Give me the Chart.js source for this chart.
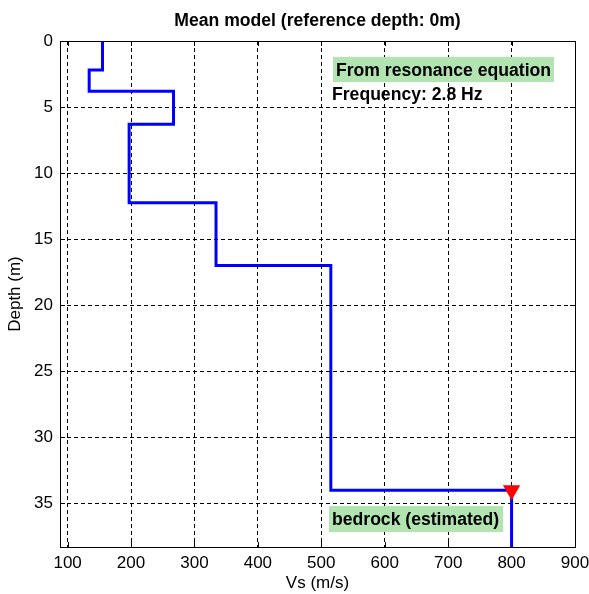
<!DOCTYPE html>
<html>
<head>
<meta charset="utf-8">
<script src="https://cdn.jsdelivr.net/npm/chart.js@4"></script>
<style>
  body { margin: 0; background: #fff; }
  #wrap { width: 589px; height: 594px; }
</style>
</head>
<body>
<div id="wrap"><canvas id="myChart"></canvas></div>
<script>
// layered Vs model
const layerVs = [155, 134, 267, 197, 334, 515, 800];
const layerTop = [0, 2.2, 3.8, 6.3, 12.25, 17.0, 34.0];
const bedrockVs = [800];
const bedrockDepth = [34.0];

const xTicks = [100, 200, 300, 400, 500, 600, 700, 800, 900];
const yTicks = [0, 5, 10, 15, 20, 25, 30, 35];
const xMin = 88, xMax = 900;
const yMin = 0, yMax = 38.3;

const titleText = 'Mean model (reference depth: 0m)';
const noteTitle = 'From resonance equation';
const noteFreq = 'Frequency: 2.8 Hz';
const noteBedrock = 'bedrock (estimated)';

const FONT = "'Liberation Sans', Arial, sans-serif";
const GREEN = 'rgb(178,228,178)';

// step profile: each layer drawn from its top to the next top
const profile = [];
layerVs.forEach((v, i) => {
    const bottom = i < layerTop.length - 1 ? layerTop[i + 1] : yMax;
    profile.push({x: v, y: layerTop[i]});
    profile.push({x: v, y: bottom});
});
const bedrock = bedrockVs.map((v, i) => ({x: v, y: bedrockDepth[i]}));

const boxPlugin = {
    id: 'boxPlugin',
    beforeDatasetsDraw(chart) {
        const {ctx, chartArea: a, scales} = chart;
        ctx.save();
        ctx.strokeStyle = '#000';
        ctx.lineWidth = 1;
        ctx.beginPath();
        // inward tick marks, all four sides
        xTicks.forEach(t => {
            const px = Math.round(scales.x.getPixelForValue(t)) + 0.5;
            ctx.moveTo(px, a.bottom); ctx.lineTo(px, a.bottom - 5);
            ctx.moveTo(px, a.top); ctx.lineTo(px, a.top + 5);
        });
        yTicks.forEach(t => {
            const py = Math.round(scales.y.getPixelForValue(t)) + 0.5;
            ctx.moveTo(a.left, py); ctx.lineTo(a.left + 5, py);
            ctx.moveTo(a.right, py); ctx.lineTo(a.right - 5, py);
        });
        ctx.stroke();
        ctx.restore();
    },
    afterDraw(chart) {
        const {ctx, chartArea: a} = chart;
        ctx.save();
        ctx.strokeStyle = '#000';
        ctx.lineWidth = 1;
        ctx.strokeRect(Math.round(a.left) + 0.5, Math.round(a.top) + 0.5,
            Math.round(a.right - a.left), Math.round(a.bottom - a.top));

        ctx.font = 'bold 17.6px ' + FONT;
        ctx.textBaseline = 'alphabetic';
        ctx.textAlign = 'left';

        // top-right note
        let w = ctx.measureText(noteTitle).width;
        ctx.fillStyle = GREEN;
        ctx.fillRect(a.left + 273, a.top + 16, w + 6, 25);
        ctx.fillStyle = '#000';
        ctx.fillText(noteTitle, a.left + 276, a.top + 35);
        ctx.fillText(noteFreq, a.left + 272, a.top + 59);

        // bedrock label
        w = ctx.measureText(noteBedrock).width;
        ctx.fillStyle = GREEN;
        ctx.fillRect(a.left + 269, a.top + 465, w + 7, 26);
        ctx.fillStyle = '#000';
        ctx.fillText(noteBedrock, a.left + 272, a.top + 484);
        ctx.restore();
    }
};

const ctx = document.getElementById('myChart');
new Chart(ctx, {
    type: 'scatter',
    data: {
        datasets: [{
            data: bedrock,
            pointStyle: 'triangle',
            rotation: 180,
            pointRadius: 10,
            pointBackgroundColor: '#ff0000',
            pointBorderColor: '#ff0000',
            pointBorderWidth: 0,
            showLine: false
        }, {
            data: profile,
            showLine: true,
            borderColor: '#0000ff',
            borderWidth: 3,
            borderJoinStyle: 'miter',
            pointRadius: 0,
            fill: false
        }]
    },
    options: {
        responsive: true,
        maintainAspectRatio: false,
        animation: false,
        events: [],
        layout: {padding: {left: 0, right: 14, top: 0, bottom: 0}},
        plugins: {
            legend: {display: false},
            tooltip: {enabled: false},
            title: {
                display: true,
                text: titleText,
                fullSize: false,
                color: '#000',
                font: {family: FONT, size: 17.6, weight: 'bold'},
                padding: {top: 10.5, bottom: 9.4}
            }
        },
        scales: {
            x: {
                type: 'linear',
                min: xMin,
                max: xMax,
                afterFit: s => { s.height = 47; s.paddingRight = 0; },
                afterBuildTicks: s => { s.ticks = xTicks.map(v => ({value: v})); },
                ticks: {color: '#000', font: {family: FONT, size: 17}, padding: 6, maxRotation: 0},
                grid: {color: '#000', lineWidth: 1, drawTicks: false},
                border: {display: false, dash: [4, 3]},
                title: {display: true, text: 'Vs (m/s)', color: '#000',
                    font: {family: FONT, size: 17}, padding: {top: 0, bottom: 0}}
            },
            y: {
                type: 'linear',
                reverse: true,
                min: yMin,
                max: yMax,
                afterFit: s => { s.width = 60; },
                afterBuildTicks: s => { s.ticks = yTicks.map(v => ({value: v})); },
                ticks: {color: '#000', font: {family: FONT, size: 17}, padding: 7},
                grid: {color: '#000', lineWidth: 1, drawTicks: false},
                border: {display: false, dash: [4, 3]},
                title: {display: true, text: 'Depth (m)', color: '#000',
                    font: {family: FONT, size: 17}, padding: {top: 5, bottom: 0}}
            }
        }
    },
    plugins: [boxPlugin]
});
</script>
</body>
</html>
